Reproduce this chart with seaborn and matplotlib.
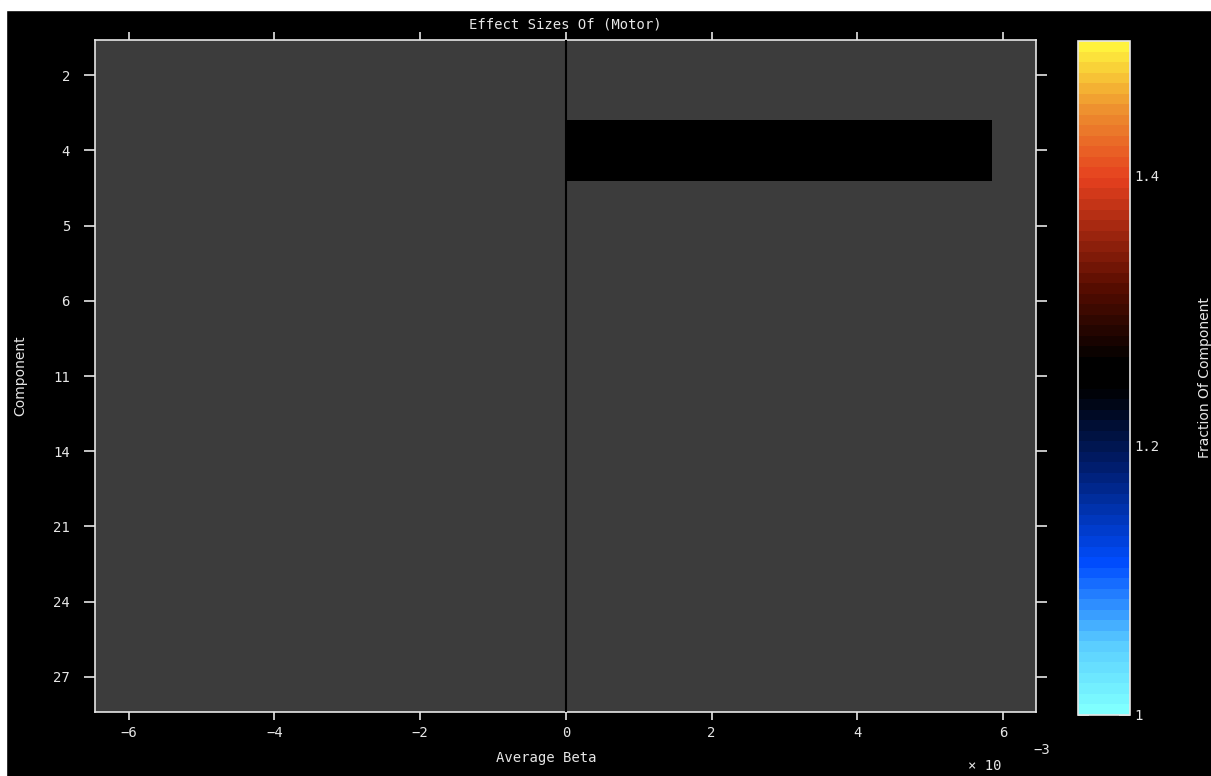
import matplotlib
matplotlib.use("Agg")
import matplotlib.pyplot as plt
import seaborn as sns
import pandas as pd
from matplotlib.colors import LinearSegmentedColormap, Normalize
from matplotlib.patches import Rectangle

# data
components = ["2", "4", "5", "6", "11", "14", "21", "24", "27"]
avg_beta = [0.0, 5.85e-3, 0.0, 0.0, 0.0, 0.0, 0.0, 0.0, 0.0]
fraction = [1.25, 1.25, 1.25, 1.25, 1.25, 1.25, 1.25, 1.25, 1.25]
x_ticks = [-6e-3, -4e-3, -2e-3, 0, 2e-3, 4e-3, 6e-3]
x_tick_labels = ["\u22126", "\u22124", "\u22122", "0", "2", "4", "6"]
cbar_ticks = [1.0, 1.2, 1.4]
cbar_tick_labels = ["1", "1.2", "1.4"]

df = pd.DataFrame({"Component": components, "Beta": avg_beta, "Fraction": fraction})

# cold-hot style map, banded like the original
cold_hot = LinearSegmentedColormap.from_list(
    "coldhot",
    [(0.00, (0.50, 1.00, 1.00)),
     (0.10, (0.35, 0.80, 1.00)),
     (0.22, (0.00, 0.30, 1.00)),
     (0.36, (0.00, 0.12, 0.45)),
     (0.485, (0.00, 0.00, 0.00)),
     (0.525, (0.00, 0.00, 0.00)),
     (0.64, (0.35, 0.05, 0.00)),
     (0.80, (0.90, 0.25, 0.12)),
     (0.90, (0.93, 0.55, 0.18)),
     (1.00, (1.00, 0.95, 0.24))],
    N=64,
)
norm = Normalize(vmin=1.0, vmax=1.5)

sns.set_style("dark")
mono = ["DejaVu Sans Mono"]
narrow = ["Liberation Sans Narrow", "DejaVu Sans"]
fg = "#e6e6e6"

fig = plt.figure(figsize=(12.11, 7.76), dpi=100, facecolor="black")
ax = fig.add_axes([95 / 1211, 64 / 776, 941 / 1211, 672 / 776])
ax.set_facecolor("#3c3c3c")

bar_colors = [cold_hot(norm(v)) for v in fraction]
sns.barplot(data=df, x="Beta", y="Component", hue="Component", palette=bar_colors,
            orient="h", width=0.8, legend=False, ax=ax, saturation=1, linewidth=0)
ax.axvline(0, color="black", lw=1.5, zorder=3)

ax.set_xlim(-6.46e-3, 6.45e-3)
ax.set_ylim(8.47, -0.47)
ax.grid(False)
for s in ax.spines.values():
    s.set_color(fg)
    s.set_linewidth(1.2)

ax.set_xticks(x_ticks)
ax.set_xticklabels(x_tick_labels, family=mono, fontsize=10, color=fg)
ax.set_yticks(range(len(components)))
ax.set_yticklabels(components, family=mono, fontsize=10, color=fg)
ax.tick_params(axis="x", which="both", direction="out", length=6, width=1.2, color=fg,
               top=True, bottom=True, labeltop=False, pad=4)
ax.tick_params(axis="y", which="both", direction="out", length=8, width=1.2, color=fg,
               left=True, right=True, labelright=False, pad=10)

ax.set_xlabel("Average Beta", family=mono, fontsize=10, color=fg)
ax.xaxis.set_label_coords(0.48, -0.058)
ax.set_ylabel("Component", family=narrow, fontsize=10, color=fg)
ax.yaxis.set_label_coords(-0.072, 0.5)
ax.set_title("Effect Sizes Of (Motor)", family=mono, fontsize=10, color=fg, pad=8)

fig.text(985 / 1211, 1 - 766 / 776, "\u00d7 10", family=mono, fontsize=10, color=fg,
         ha="center", va="center")
fig.text(1042 / 1211, 1 - 750 / 776, "\u22123", family=mono, fontsize=10, color=fg,
         ha="center", va="center")

# colorbar
cax = fig.add_axes([1078 / 1211, 61 / 776, 52 / 1211, 674 / 776])
sm = matplotlib.cm.ScalarMappable(norm=norm, cmap=cold_hot)
cb = fig.colorbar(sm, cax=cax)
cb.outline.set_edgecolor(fg)
cb.outline.set_linewidth(1.2)
cb.set_ticks(cbar_ticks)
cb.set_ticklabels(cbar_tick_labels)
cax.yaxis.set_ticks_position("both")
cax.tick_params(axis="y", direction="in", length=8, width=1.2, color=fg,
                labelcolor=fg, labelsize=10, labelleft=False, labelright=True, pad=3)
for lbl in cax.get_yticklabels():
    lbl.set_family(mono)
cax.set_ylabel("Fraction Of Component", family=narrow, fontsize=10, color=fg)
cax.yaxis.set_label_position("right")
cax.yaxis.set_label_coords(2.3, 0.5)

# white strips at the top and left edge of the original capture
fig.patches.append(Rectangle((0, 1 - 10 / 776), 1, 10 / 776, transform=fig.transFigure,
                             color="white", zorder=10))
fig.patches.append(Rectangle((0, 0), 6 / 1211, 1, transform=fig.transFigure,
                             color="white", zorder=10))

fig.savefig("out.png", dpi=100, facecolor="black")
